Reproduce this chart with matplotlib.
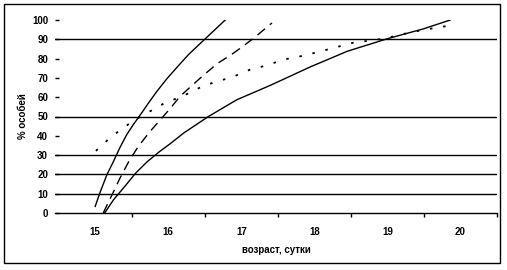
import matplotlib
matplotlib.use("Agg")
import matplotlib.pyplot as plt
from matplotlib.patches import Rectangle

# ---------------------------------------------------------------
# data (age in days, % of individuals)
# ---------------------------------------------------------------
age_a = [15.0, 15.07, 15.16, 15.25, 15.34, 15.43, 15.52, 15.62, 15.73,
         15.84, 15.98, 16.12, 16.28, 16.51, 16.78]
pct_a = [3.4, 11, 19.8, 26.7, 34, 40.5, 45.7, 51, 57,
         62.8, 69.5, 75.5, 82.2, 90.4, 100]

age_b = [15.11, 15.21, 15.34, 15.46, 15.59, 15.75, 15.91, 16.03, 16.16,
         16.3, 16.48, 16.67, 16.85, 17.01, 17.19, 17.42]
pct_b = [0, 7.8, 18.1, 26.7, 34.5, 42.2, 49.1, 54.3, 60.4,
         65.2, 71.3, 77.4, 81.7, 86, 91.2, 98.5]

age_c = [15.01, 15.21, 15.39, 15.5, 15.68, 15.82, 15.95, 16.07, 16.19,
         16.44, 16.64, 16.87, 17.12, 17.35, 17.58, 17.81, 18.05, 18.29,
         18.53, 18.95, 19.34, 19.59, 19.93]
pct_c = [32.2, 39.2, 44.3, 47.1, 51.4, 54, 57, 58.7, 60.4,
         65.1, 67.9, 70.3, 74.3, 76.5, 79.5, 81.2, 83.4, 85.8,
         88.2, 90.3, 93.8, 95.5, 97.6]

age_d = [15.13, 15.25, 15.41, 15.55, 15.71, 15.87, 16.03, 16.21, 16.55,
         16.94, 17.26, 17.4, 17.67, 17.95, 18.17, 18.45, 19.0, 19.5, 19.86]
pct_d = [0, 6.8, 14, 20.5, 26.5, 31.5, 36, 41.4, 50,
         58.7, 63.9, 66.2, 70.9, 75.8, 79.3, 83.8, 90.3, 95.5, 100]

x_labels = [15, 16, 17, 18, 19, 20]
y_ticks = list(range(0, 101, 10))
grid_levels = [10, 20, 30, 50, 90]  # only these lines survive in the scan

plt.rcParams["font.family"] = ["Liberation Sans", "DejaVu Sans"]
plt.rcParams["font.weight"] = "bold"

W, H = 507, 270
fig = plt.figure(figsize=(W / 100, H / 100), dpi=100)
ax = fig.add_axes([55 / W, 1 - 213 / H, (497 - 55) / W, (213 - 20) / H])

for lev in grid_levels:
    ax.axhline(lev, color="black", lw=1.0, zorder=1)

ax.plot(age_a, pct_a, color="black", lw=1.0, zorder=3)
ax.plot(age_b, pct_b, color="black", lw=1.0, ls=(0, (7, 4.5)), zorder=3)
ax.plot(age_c, pct_c, color="black", lw=1.3, ls=(0, (1.4, 6)), zorder=3)
ax.plot(age_d, pct_d, color="black", lw=1.0, zorder=3)

ax.set_xlim(14.45, 20.5)
ax.set_ylim(0, 100)

ax.set_xticks(x_labels)
ax.set_xticklabels([str(v) for v in x_labels])
ax.set_xticks([14.5 + k for k in range(1, 7)], minor=True)
ax.tick_params(axis="x", which="major", length=0, pad=10, labelsize=7)
ax.tick_params(axis="x", which="minor", length=3, direction="out", width=1)

ax.set_yticks(y_ticks)
ax.tick_params(axis="y", length=3, direction="in", width=1, pad=5, labelsize=7)

for side in ["top", "right", "left"]:
    ax.spines[side].set_visible(False)
ax.spines["bottom"].set_linewidth(1.0)

ax.set_xlabel("возраст, сутки", fontsize=7, fontweight="bold")
ax.xaxis.set_label_coords(0.5, -0.168)
ax.set_ylabel("% особей", fontsize=7, fontweight="bold")
ax.yaxis.set_label_coords(-0.062, 0.5)

# outer chart frame
fig.patches.append(Rectangle((4 / W, 1 - 263 / H), (500 - 4) / W, (263 - 4) / H,
                             transform=fig.transFigure, fill=False,
                             edgecolor="black", lw=1.0))

fig.savefig("out.png", dpi=100)
